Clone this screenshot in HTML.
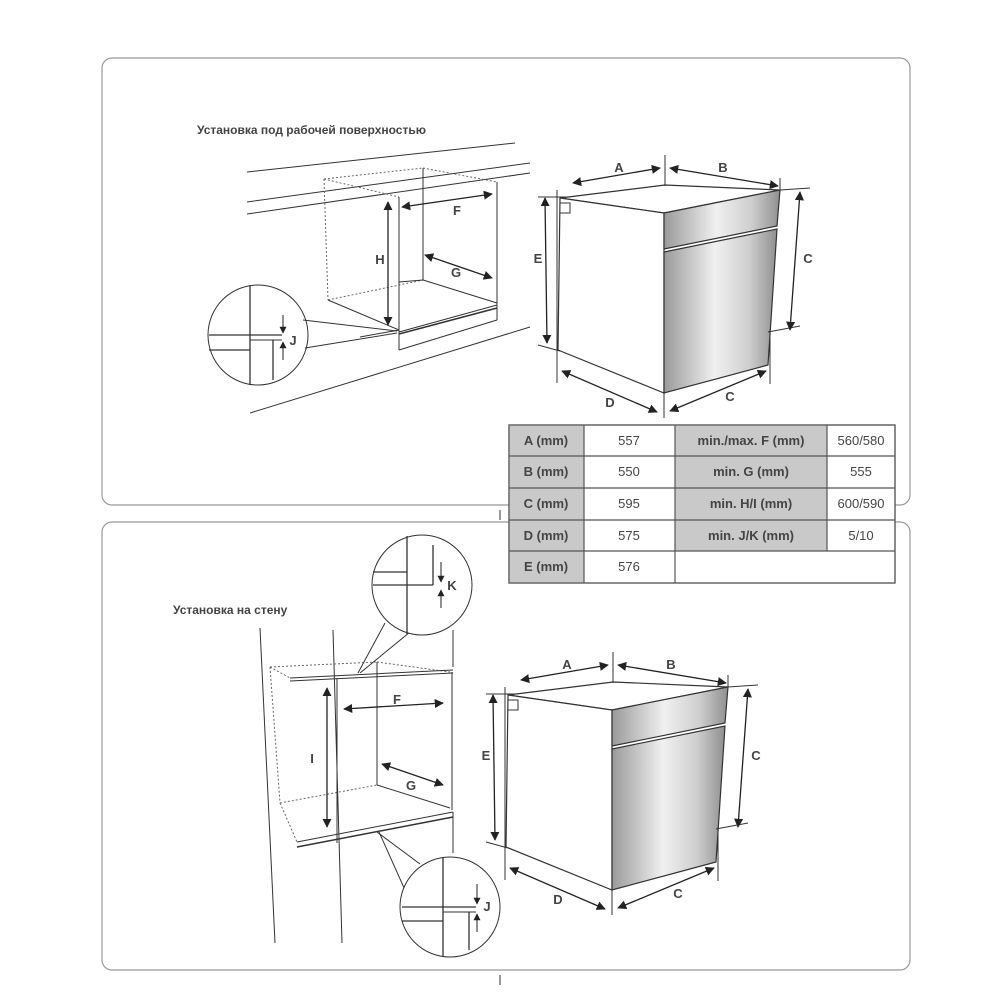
<!DOCTYPE html>
<html><head><meta charset="utf-8"><style>
html,body{margin:0;padding:0;background:#fff}
svg{display:block}
text{font-family:"Liberation Sans",sans-serif;fill:#444}
</style></head><body>
<svg width="1000" height="1000" viewBox="0 0 1000 1000" xmlns="http://www.w3.org/2000/svg">
<defs>
<linearGradient id="g1" x1="0" y1="0" x2="1" y2="0">
<stop offset="0" stop-color="#9a9a9a"/><stop offset="0.45" stop-color="#f0f0f0"/><stop offset="0.75" stop-color="#cfcfcf"/><stop offset="1" stop-color="#8f8f8f"/>
</linearGradient>
<marker id="ar" viewBox="0 0 10 10" refX="9" refY="5" markerWidth="7" markerHeight="7" orient="auto-start-reverse"><path d="M0,0 L10,5 L0,10 z" fill="#222"/></marker>
<g id="oven">
 <path d="M560,198 L665,185 L780,190 L664,213 Z" fill="#fff" stroke="#333" stroke-width="1.2"/>
 <path d="M560,198 L664,213 L664,393 L558,350 Z" fill="#fff" stroke="#333" stroke-width="1.2"/>
 <path d="M664,213 L780,190 L777,226 L664,249 Z" fill="url(#g1)" stroke="#333" stroke-width="1.2"/>
 <path d="M664,252 L777,229 L768,365 L664,393 Z" fill="url(#g1)" stroke="#333" stroke-width="1.2"/>
 <path d="M560,203 L570,203 L570,213 L560,213" fill="none" stroke="#333"/>
 <g stroke="#333" stroke-width="1" fill="none">
  <line x1="665" y1="155" x2="665" y2="186"/>
  <line x1="780" y1="178" x2="780" y2="192"/>
  <line x1="557" y1="190" x2="557" y2="383"/>
  <line x1="538" y1="197" x2="570" y2="197"/>
  <line x1="538" y1="345" x2="560" y2="351"/>
  <line x1="664" y1="393" x2="664" y2="418"/>
  <line x1="770" y1="330" x2="770" y2="384"/>
  <line x1="780" y1="190" x2="810" y2="188"/>
  <line x1="768" y1="332" x2="800" y2="326"/>
 </g>
 <g stroke="#222" stroke-width="1.3" marker-start="url(#ar)" marker-end="url(#ar)">
  <line x1="573" y1="183" x2="660" y2="168"/>
  <line x1="670" y1="168" x2="778" y2="186"/>
  <line x1="545" y1="198" x2="547" y2="343"/>
  <line x1="800" y1="192" x2="790" y2="330"/>
  <line x1="562" y1="371" x2="657" y2="412"/>
  <line x1="670" y1="411" x2="766" y2="371"/>
 </g>
 <g font-size="13" font-weight="bold" text-anchor="middle">
 <text x="619" y="172">A</text>
 <text x="723" y="172">B</text>
 <text x="538" y="263">E</text>
 <text x="808" y="263">C</text>
 <text x="610" y="407">D</text>
 <text x="730" y="401">C</text>
 </g>
</g>
</defs>

<rect x="102" y="58" width="808" height="447" rx="10" fill="#fff" stroke="#999" stroke-width="1.2"/>
<rect x="102" y="522" width="808" height="448" rx="10" fill="#fff" stroke="#999" stroke-width="1.2"/>

<text x="197" y="134" font-size="12" font-weight="bold" fill="#333">Установка под рабочей поверхностью</text>
<g stroke="#333" stroke-width="1" fill="none">
 <line x1="247" y1="172" x2="515" y2="143"/>
 <line x1="247" y1="202" x2="530" y2="163"/>
 <line x1="247" y1="214" x2="530" y2="173"/>
 <line x1="250" y1="413" x2="530" y2="327"/>
 <g stroke-dasharray="2,2" stroke="#666">
  <line x1="324" y1="179" x2="423" y2="168"/>
  <line x1="423" y1="168" x2="497" y2="182"/>
  <line x1="324" y1="179" x2="399" y2="197"/>
  <line x1="324" y1="179" x2="328" y2="300"/>
  <line x1="328" y1="300" x2="423" y2="280"/>
 </g>
 <line x1="423" y1="168" x2="423" y2="280"/>
 <line x1="399" y1="197" x2="399" y2="350"/>
 <line x1="497" y1="182" x2="497" y2="320"/>
 <line x1="328" y1="300" x2="399" y2="330"/>
 <line x1="423" y1="280" x2="497" y2="303"/>
 <line x1="399" y1="282" x2="423" y2="280"/>
 <line x1="399" y1="332" x2="497" y2="305"/>
 <line x1="399" y1="334" x2="497" y2="308" stroke-width="1.5"/>
 <line x1="399" y1="350" x2="497" y2="320"/>
 <line x1="360" y1="337" x2="399" y2="330"/>
 <circle cx="258" cy="335" r="50" fill="#fff"/>
 <line x1="303" y1="320" x2="397" y2="331"/>
 <line x1="305" y1="348" x2="397" y2="333"/>
 <line x1="250" y1="285" x2="250" y2="385" stroke-width="1.3"/>
 <line x1="209" y1="335" x2="282" y2="335" stroke-width="1.3"/>
 <line x1="209" y1="350" x2="250" y2="350" stroke-width="1.3"/>
 <line x1="273" y1="340" x2="273" y2="380" stroke-width="1.3"/>
 <line x1="250" y1="340" x2="282" y2="340"/>
</g>
<g stroke="#222" stroke-width="1.3" marker-start="url(#ar)" marker-end="url(#ar)">
 <line x1="388" y1="202" x2="388" y2="325"/>
 <line x1="402" y1="207" x2="492" y2="194"/>
 <line x1="425" y1="255" x2="492" y2="278"/>
</g>
<g stroke="#222" stroke-width="1" marker-end="url(#ar)">
 <line x1="283" y1="315" x2="283" y2="333"/>
 <line x1="283" y1="360" x2="283" y2="342"/>
</g>
<g font-size="13" font-weight="bold" text-anchor="middle">
<text x="380" y="264">H</text>
<text x="457" y="215">F</text>
<text x="456" y="277">G</text>
<text x="293" y="345">J</text>
</g>

<use href="#oven"/>

<text x="173" y="614" font-size="12" font-weight="bold" fill="#333">Установка на стену</text>
<g stroke="#333" stroke-width="1" fill="none">
 <line x1="260" y1="628" x2="275" y2="943"/>
 <line x1="333" y1="630" x2="342" y2="943"/>
 <g stroke-dasharray="2,2" stroke="#666">
  <line x1="270" y1="667" x2="377" y2="662"/>
  <line x1="377" y1="662" x2="450" y2="672"/>
  <line x1="270" y1="667" x2="290" y2="678"/>
  <line x1="270" y1="667" x2="280" y2="803"/>
  <line x1="280" y1="803" x2="377" y2="785"/>
  <line x1="280" y1="803" x2="297" y2="842"/>
 </g>
 <line x1="290" y1="678" x2="453" y2="670"/>
 <line x1="290" y1="681" x2="453" y2="673"/>
 <line x1="337" y1="678" x2="337" y2="843"/>
 <line x1="452" y1="672" x2="452" y2="810"/>
 <line x1="377" y1="662" x2="377" y2="785"/>
 <line x1="377" y1="785" x2="450" y2="808"/>
 <line x1="297" y1="842" x2="453" y2="812"/>
 <line x1="297" y1="847" x2="453" y2="817" stroke-width="1.5"/>
 <line x1="453" y1="812" x2="453" y2="853"/>
 <line x1="453" y1="630" x2="453" y2="667"/>
 <line x1="385" y1="623" x2="358" y2="673"/>
 <line x1="410" y1="632" x2="360" y2="673"/>
 <circle cx="422" cy="585" r="50" fill="#fff"/>
 <line x1="407" y1="536" x2="407" y2="634" stroke-width="1.3"/>
 <line x1="373" y1="572" x2="407" y2="572" stroke-width="1.3"/>
 <line x1="373" y1="585" x2="433" y2="585" stroke-width="1.3"/>
 <line x1="433" y1="545" x2="433" y2="585" stroke-width="1.3"/>
 <line x1="377" y1="832" x2="420" y2="864"/>
 <line x1="379" y1="832" x2="405" y2="890"/>
 <circle cx="450" cy="907" r="50" fill="#fff"/>
 <line x1="443" y1="857" x2="443" y2="957" stroke-width="1.3"/>
 <line x1="402" y1="907" x2="476" y2="907" stroke-width="1.3"/>
 <line x1="402" y1="921" x2="443" y2="921" stroke-width="1.3"/>
 <line x1="469" y1="912" x2="469" y2="950" stroke-width="1.3"/>
 <line x1="443" y1="912" x2="476" y2="912"/>
</g>
<g stroke="#222" stroke-width="1.3" marker-start="url(#ar)" marker-end="url(#ar)">
 <line x1="327" y1="688" x2="327" y2="827"/>
 <line x1="344" y1="709" x2="443" y2="703"/>
 <line x1="382" y1="764" x2="443" y2="785"/>
</g>
<g stroke="#222" stroke-width="1" marker-end="url(#ar)">
 <line x1="441" y1="562" x2="441" y2="582"/>
 <line x1="441" y1="608" x2="441" y2="590"/>
 <line x1="477" y1="884" x2="477" y2="904"/>
 <line x1="477" y1="932" x2="477" y2="914"/>
</g>
<g font-size="13" font-weight="bold" text-anchor="middle">
<text x="312" y="763">I</text>
<text x="397" y="704">F</text>
<text x="411" y="790">G</text>
<text x="452" y="590">K</text>
<text x="487" y="911">J</text>
</g>

<use href="#oven" transform="translate(-52,497)"/>

<g font-size="13">
 <rect x="509" y="425" width="386" height="158" fill="#fff" stroke="#555" stroke-width="1.2"/>
 <g fill="#c9c9c9">
  <rect x="509" y="425" width="75" height="158"/>
  <rect x="675" y="425" width="152" height="126"/>
 </g>
 <g stroke="#555" stroke-width="1.2">
  <line x1="509" y1="456" x2="895" y2="456"/>
  <line x1="509" y1="488" x2="895" y2="488"/>
  <line x1="509" y1="520" x2="895" y2="520"/>
  <line x1="509" y1="551" x2="895" y2="551"/>
  <line x1="584" y1="425" x2="584" y2="583"/>
  <line x1="675" y1="425" x2="675" y2="583"/>
  <line x1="827" y1="425" x2="827" y2="551"/>
  <rect x="509" y="425" width="386" height="158" fill="none"/>
 </g>
 <g text-anchor="middle">
  <text x="546" y="445" font-weight="bold" fill="#555">A (mm)</text>
  <text x="546" y="476" font-weight="bold" fill="#555">B (mm)</text>
  <text x="546" y="508" font-weight="bold" fill="#555">C (mm)</text>
  <text x="546" y="540" font-weight="bold" fill="#555">D (mm)</text>
  <text x="546" y="571" font-weight="bold" fill="#555">E (mm)</text>
  <text x="629" y="445">557</text>
  <text x="629" y="476">550</text>
  <text x="629" y="508">595</text>
  <text x="629" y="540">575</text>
  <text x="629" y="571">576</text>
  <text x="751" y="445" font-weight="bold" fill="#555">min./max. F (mm)</text>
  <text x="751" y="476" font-weight="bold" fill="#555">min. G (mm)</text>
  <text x="751" y="508" font-weight="bold" fill="#555">min. H/I (mm)</text>
  <text x="751" y="540" font-weight="bold" fill="#555">min. J/K (mm)</text>
  <text x="861" y="445">560/580</text>
  <text x="861" y="476">555</text>
  <text x="861" y="508">600/590</text>
  <text x="861" y="540">5/10</text>
 </g>
</g>
<line x1="500" y1="510" x2="500" y2="520" stroke="#333"/>
<line x1="500" y1="975" x2="500" y2="985" stroke="#333"/>
</svg>
</body></html>
